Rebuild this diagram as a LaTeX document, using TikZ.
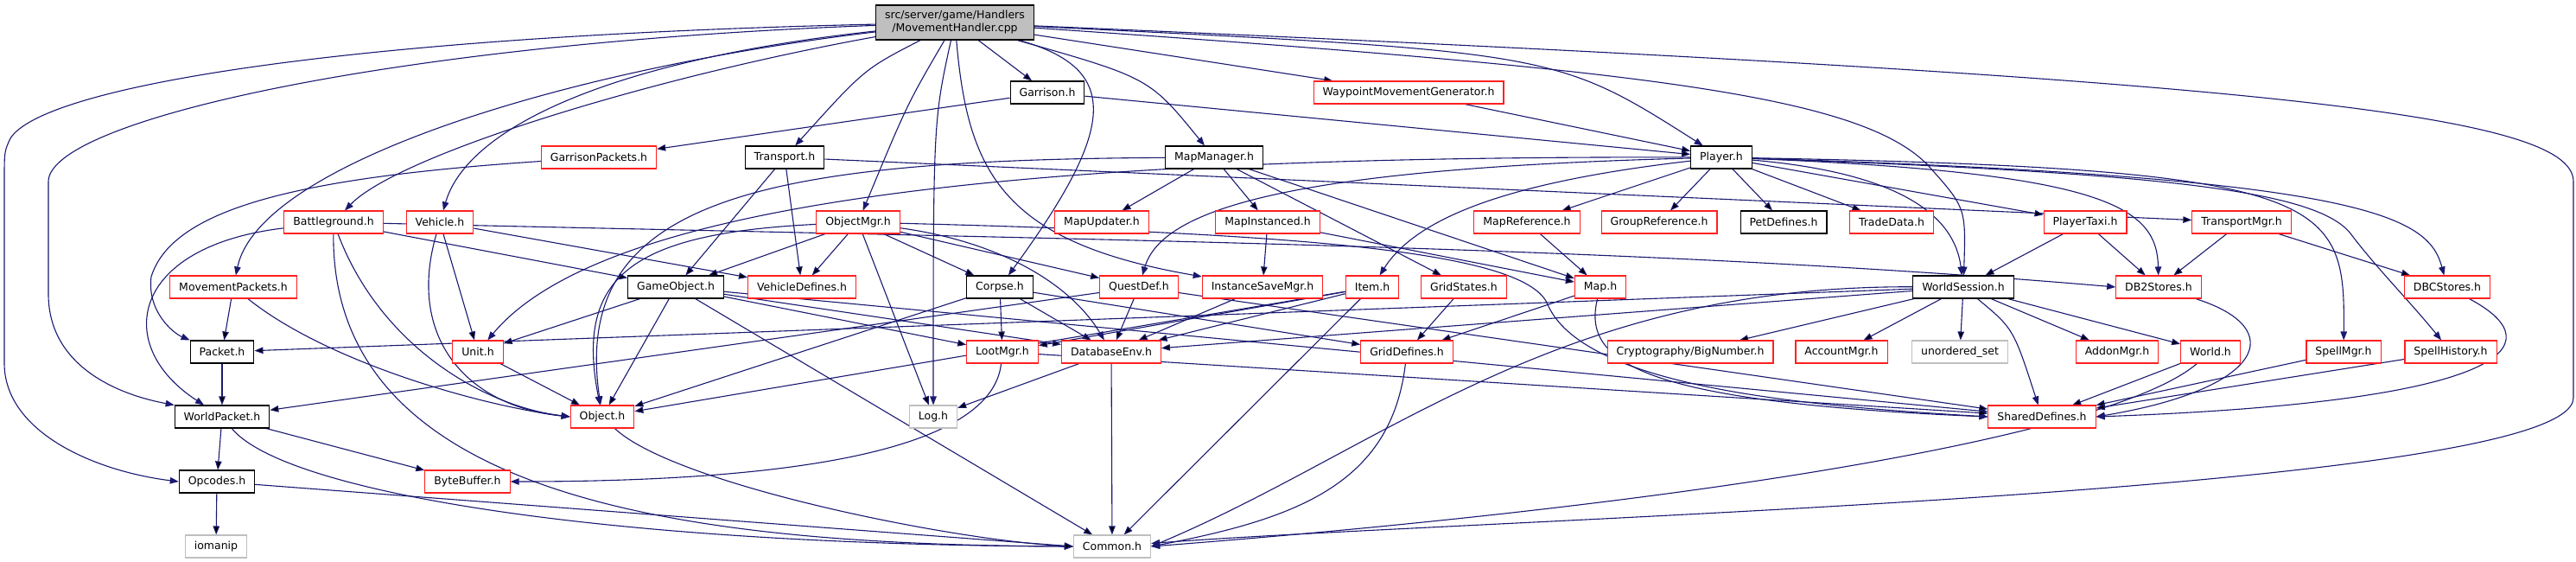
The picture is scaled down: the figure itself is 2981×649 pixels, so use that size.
\documentclass[tikz,border=0pt]{standalone}
\usepackage{fontspec}
\setmainfont{DejaVu Sans}
\usepackage{tikz}
\usepackage{xcolor}
\usetikzlibrary{arrows.meta,backgrounds}
\definecolor{edgeblue}{HTML}{191970}
\definecolor{boxgrey}{HTML}{BFBFBF}
\definecolor{boxred}{HTML}{FF2020}
\tikzset{
  box/.style={rectangle, fill=white, line width=1.1pt, minimum height=26pt, inner xsep=10.5pt, inner ysep=2pt, font=\fontsize{12.5}{15}\selectfont},
  redbox/.style={box, draw=boxred},
  blackbox/.style={box, draw=black},
  greybox/.style={box, draw=boxgrey},
  topbox/.style={box, draw=black, fill=boxgrey, minimum height=40pt, align=center},
  dep/.style={draw=edgeblue, line width=1.1pt, -{Triangle[length=10pt,width=7.5pt]}}
}
\begin{document}
\begin{tikzpicture}[x=1pt, y=-1pt]
\useasboundingbox (0,0) rectangle (2981,649);
\node[topbox] (n0) at (1105,26) {src/server/game/Handlers\\/MovementHandler.cpp};
\node[blackbox] (n1) at (1212,107) {Garrison.h};
\node[redbox] (n2) at (1630,107) {WaypointMovementGenerator.h};
\node[redbox] (n3) at (693,182) {GarrisonPackets.h};
\node[blackbox] (n4) at (908,182) {Transport.h};
\node[blackbox] (n5) at (1405,182) {MapManager.h};
\node[blackbox] (n6) at (1992,182) {Player.h};
\node[redbox] (n7) at (386,257) {Battleground.h};
\node[redbox] (n8) at (509,257) {Vehicle.h};
\node[redbox] (n9) at (993,257) {ObjectMgr.h};
\node[redbox] (n10) at (1275,257) {MapUpdater.h};
\node[redbox] (n11) at (1467,257) {MapInstanced.h};
\node[redbox] (n12) at (1767,257) {MapReference.h};
\node[redbox] (n13) at (1920,257) {GroupReference.h};
\node[blackbox] (n14) at (2064,257) {PetDefines.h};
\node[redbox] (n15) at (2189,257) {TradeData.h};
\node[redbox] (n16) at (2413,257) {PlayerTaxi.h};
\node[redbox] (n17) at (2594,257) {TransportMgr.h};
\node[redbox] (n18) at (270,332) {MovementPackets.h};
\node[blackbox] (n19) at (782,332) {GameObject.h};
\node[redbox] (n20) at (928,332) {VehicleDefines.h};
\node[blackbox] (n21) at (1157,332) {Corpse.h};
\node[redbox] (n22) at (1318,332) {QuestDef.h};
\node[redbox] (n23) at (1461,332) {InstanceSaveMgr.h};
\node[redbox] (n24) at (1588,332) {Item.h};
\node[redbox] (n25) at (1694,332) {GridStates.h};
\node[redbox] (n26) at (1852,332) {Map.h};
\node[blackbox] (n27) at (2272,332) {WorldSession.h};
\node[redbox] (n28) at (2498,332) {DB2Stores.h};
\node[redbox] (n29) at (2832,332) {DBCStores.h};
\node[blackbox] (n30) at (257,407) {Packet.h};
\node[redbox] (n31) at (553,407) {Unit.h};
\node[redbox] (n32) at (1160,407) {LootMgr.h};
\node[redbox] (n33) at (1286,407) {DatabaseEnv.h};
\node[redbox] (n34) at (1628,407) {GridDefines.h};
\node[redbox] (n35) at (1956,407) {Cryptography/BigNumber.h};
\node[redbox] (n36) at (2131,407) {AccountMgr.h};
\node[greybox] (n37) at (2268,407) {unordered\_set};
\node[redbox] (n38) at (2450,407) {AddonMgr.h};
\node[redbox] (n39) at (2558,407) {World.h};
\node[redbox] (n40) at (2712,407) {SpellMgr.h};
\node[redbox] (n41) at (2836,407) {SpellHistory.h};
\node[blackbox] (n42) at (257,482) {WorldPacket.h};
\node[redbox] (n43) at (697,482) {Object.h};
\node[greybox] (n44) at (1080,482) {Log.h};
\node[redbox] (n45) at (2363,482) {SharedDefines.h};
\node[blackbox] (n46) at (251,557) {Opcodes.h};
\node[redbox] (n47) at (541,557) {ByteBuffer.h};
\node[greybox] (n48) at (250,632) {iomanip};
\node[greybox] (n49) at (1287,632) {Common.h};
\begin{scope}[on background layer]
% MovementHandler.cpp
\draw[dep] (n0) .. controls (400,42) and (50,100) .. (12,160) .. controls (5,175) .. (5,210) -- (5,420) .. controls (5,500) and (110,545) .. (n46.west);
\draw[dep] (n0) .. controls (450,50) and (56,140) .. (56,210) -- (56,340) .. controls (56,420) and (130,455) .. (n42.north west);
\draw[dep] (n0) .. controls (650,80) and (300,190) .. (n18);
\draw[dep] (n0) .. controls (750,90) and (460,180) .. (n7);
\draw[dep] (n0) .. controls (700,70) and (540,150) .. (n8);
\draw[dep] (n0) .. controls (1000,80) .. (n4);
\draw[dep] (n0) .. controls (1050,120) .. (n9);
\draw[dep] (n0) .. controls (1080,140) .. (n44);
\draw[dep] (n0) .. controls (1120,200) and (1160,280) .. (n23);
\draw[dep] (n0) edge (n1);
\draw[dep] (n0) .. controls (1300,80) and (1290,150) .. (n21);
\draw[dep] (n0) .. controls (1330,90) .. (n5);
\draw[dep] (n0) edge (n2);
\draw[dep] (n0) .. controls (1800,60) .. (n6);
\draw[dep] (n0) .. controls (1900,80) and (2150,110) .. (2230,190) .. controls (2275,240) .. (n27);
\draw[dep] (n0) .. controls (2600,90) and (2978,130) .. (2978,210) -- (2978,460) .. controls (2978,570) and (1700,600) .. (n49);
% second row
\draw[dep] (n1) edge (n3);
\draw[dep] (n1) edge (n6);
\draw[dep] (n2) edge (n6);
\draw[dep] (n3) .. controls (350,205) and (200,240) .. (175,320) .. controls (170,360) and (200,385) .. (n30.north west);
\draw[dep] (n4) edge (n19);
\draw[dep] (n4) edge (n20);
\draw[dep] (n4) edge (n17);
\draw[dep] (n5) .. controls (880,185) and (660,230) .. (n43);
\draw[dep] (n5) edge (n10);
\draw[dep] (n5) edge (n11);
\draw[dep] (n5) edge (n25);
\draw[dep] (n5) edge (n26);
% Player.h
\draw[dep] (n6) .. controls (1200,180) and (700,230) .. (n31);
\draw[dep] (n6) .. controls (1500,195) and (1345,240) .. (n22);
\draw[dep] (n6) .. controls (1750,210) and (1640,250) .. (n24);
\draw[dep] (n6) edge (n12);
\draw[dep] (n6) edge (n13);
\draw[dep] (n6) edge (n14);
\draw[dep] (n6) edge (n15);
\draw[dep] (n6) edge (n16);
\draw[dep] (n6) .. controls (2200,200) and (2262,250) .. (n27);
\draw[dep] (n6) .. controls (2440,200) and (2496,240) .. (n28);
\draw[dep] (n6) .. controls (2700,195) and (2714,230) .. (n40);
\draw[dep] (n6) .. controls (2500,200) and (2680,220) .. (2720,270) .. controls (2750,310) and (2790,350) .. (n41);
\draw[dep] (n6) .. controls (2740,205) and (2810,250) .. (n29);
% third row
\draw[dep] (n7) .. controls (150,285) and (130,400) .. (n42);
\draw[dep] (n7) .. controls (383,580) and (800,630) .. (n49.west);
\draw[dep] (n7) .. controls (440,400) and (560,470) .. (n43.west);
\draw[dep] (n7) edge (n19);
\draw[dep] (n7) .. controls (1300,278) and (1900,285) .. (n28.west);
\draw[dep] (n8) edge (n31);
\draw[dep] (n8) .. controls (470,390) and (540,470) .. (n43.west);
\draw[dep] (n8) edge (n20);
\draw[dep] (n9) edge (n19);
\draw[dep] (n9) edge (n20);
\draw[dep] (n9) edge (n44);
\draw[dep] (n9) edge (n21);
\draw[dep] (n9) edge (n22);
\draw[dep] (n9) .. controls (1160,280) and (1240,330) .. (n33);
\draw[dep] (n9) .. controls (730,270) and (665,320) .. (n43);
\draw[dep] (n9) .. controls (1500,270) and (1760,290) .. (1790,350) .. controls (1830,450) and (2100,470) .. (n45.west);
\draw[dep] (n11) edge (n23);
\draw[dep] (n11) edge (n26);
\draw[dep] (n12) edge (n26);
\draw[dep] (n16) edge (n27);
\draw[dep] (n16) edge (n28);
\draw[dep] (n17) edge (n28);
\draw[dep] (n17) edge (n29);
% fourth row
\draw[dep] (n18) edge (n30);
\draw[dep] (n18) .. controls (380,420) and (560,470) .. (n43.west);
\draw[dep] (n19) edge (n31);
\draw[dep] (n19) edge (n43);
\draw[dep] (n19) edge (n49);
\draw[dep] (n19) edge (n32);
\draw[dep] (n19) edge (n33);
\draw[dep] (n19) edge (n45);
\draw[dep] (n21) edge (n43);
\draw[dep] (n21) edge (n32);
\draw[dep] (n21) edge (n33);
\draw[dep] (n21) edge (n34);
\draw[dep] (n22) edge (n33);
\draw[dep] (n22) edge (n42);
\draw[dep] (n22) edge (n45);
\draw[dep] (n23) edge (n33);
\draw[dep] (n24) edge (n32);
\draw[dep] (n24) edge (n33);
\draw[dep] (n24) edge (n43);
\draw[dep] (n24) edge (n49);
\draw[dep] (n25) edge (n34);
\draw[dep] (n26) edge (n34);
\draw[dep] (n26) .. controls (1830,420) and (1900,465) .. (n45.west);
\draw[dep] (n27) edge (n30);
\draw[dep] (n27) edge (n33);
\draw[dep] (n27) edge (n35);
\draw[dep] (n27) edge (n36);
\draw[dep] (n27) edge (n37);
\draw[dep] (n27) edge (n38);
\draw[dep] (n27) edge (n39);
\draw[dep] (n27) .. controls (2330,380) .. (n45);
\draw[dep] (n27) .. controls (1800,330) and (1600,520) .. (n49.east);
\draw[dep] (n28) .. controls (2650,380) and (2620,450) .. (n45.east);
\draw[dep] (n29) .. controls (2960,400) and (2900,465) .. (n45.east);
% fifth row
\draw[dep] (n30) edge (n42);
\draw[dep] (n31) edge (n43);
\draw[dep] (n32) .. controls (1150,500) and (1000,557) .. (n47);
\draw[dep] (n32) edge (n45);
\draw[dep] (n33) edge (n44);
\draw[dep] (n33) edge (n49);
\draw[dep] (n34) .. controls (1610,560) and (1500,600) .. (n49.east);
\draw[dep] (n39) edge (n45);
\draw[dep] (n39) .. controls (2450,500) and (2000,580) .. (n49.east);
\draw[dep] (n40) edge (n45);
\draw[dep] (n41) edge (n45);
% bottom rows
\draw[dep] (n42) edge (n46);
\draw[dep] (n42) edge (n47);
\draw[dep] (n42) .. controls (330,570) and (700,630) .. (n49.west);
\draw[dep] (n43) .. controls (780,560) and (1100,625) .. (n49.west);
\draw[dep] (n46) edge (n48);
\draw[dep] (n46) edge (n49.west);
\end{scope}
\end{tikzpicture}
\end{document}
